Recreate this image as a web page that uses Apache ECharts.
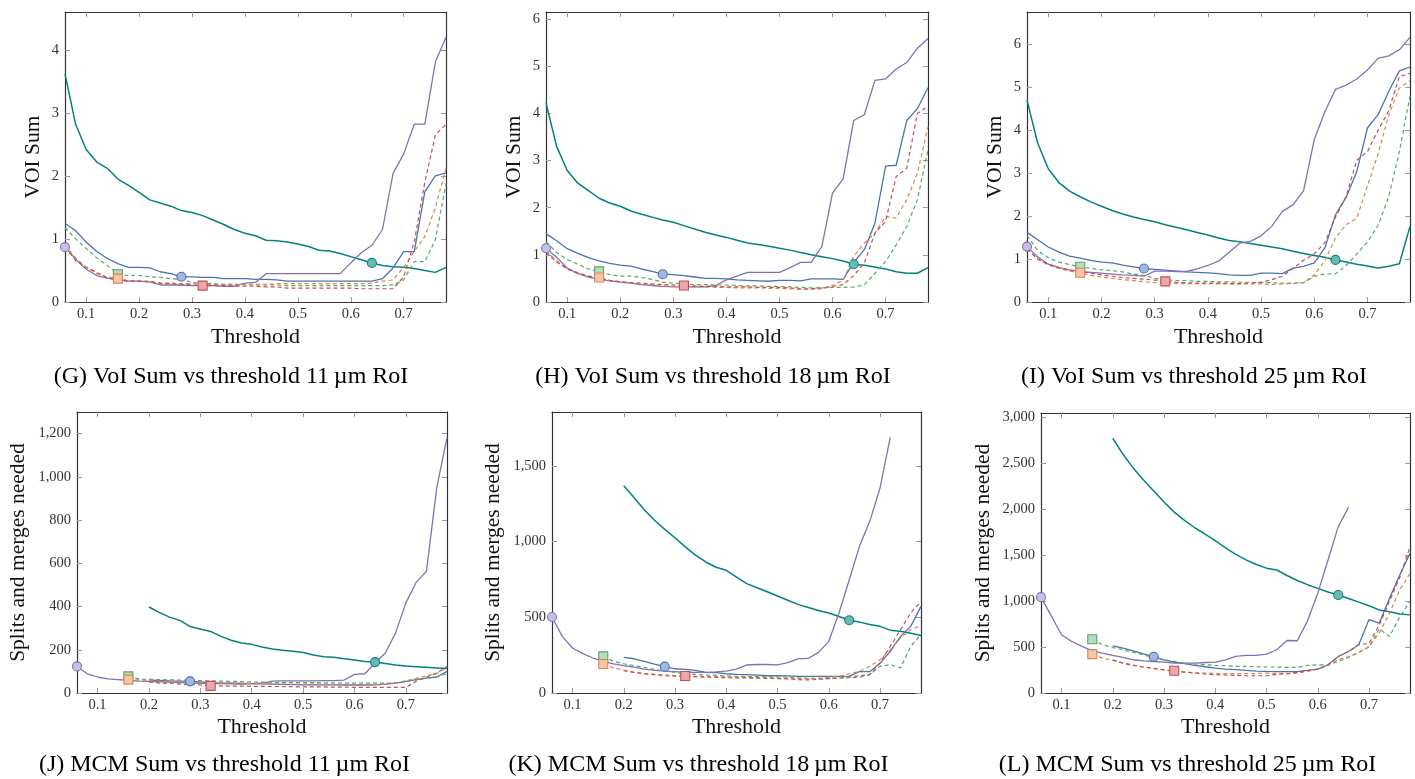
<!DOCTYPE html>
<html><head><meta charset="utf-8">
<script src="https://cdn.jsdelivr.net/npm/echarts@6/dist/echarts.min.js"></script>
<style>html,body{margin:0;padding:0;background:#fff}#c{width:1415px;height:779px}</style>
</head><body><div id="c"></div>
<script>
const N = null;
const THRESHOLDS = [0.06,0.08,0.10,0.12,0.14,0.16,0.18,0.20,0.22,0.24,0.26,0.28,0.30,0.32,0.34,0.36,0.38,0.40,0.42,0.44,0.46,0.48,0.50,0.52,0.54,0.56,0.58,0.60,0.62,0.64,0.66,0.68,0.70,0.72,0.74,0.76,0.78];
const X_TICKS = [0.1,0.2,0.3,0.4,0.5,0.6,0.7];
const Y_TICKS_G = [0,1,2,3,4];
const Y_TICKS_H = [0,1,2,3,4,5,6];
const Y_TICKS_I = [0,1,2,3,4,5,6];
const Y_TICKS_J = [0,200,400,600,800,1000,1200];
const Y_TICKS_K = [0,500,1000,1500];
const Y_TICKS_L = [0,500,1000,1500,2000,2500,3000];
// marker thresholds, series order: teal, blue, purple, green, orange, red
const MARK_AT = [0.64,0.28,0.06,0.16,0.16,0.32];
const CAPTIONS = [
  '(G) VoI Sum vs threshold 11\u2009\u00b5m RoI',
  '(H) VoI Sum vs threshold 18\u2009\u00b5m RoI',
  '(I) VoI Sum vs threshold 25\u2009\u00b5m RoI',
  '(J) MCM Sum vs threshold 11\u2009\u00b5m RoI',
  '(K) MCM Sum vs threshold 18\u2009\u00b5m RoI',
  '(L) MCM Sum vs threshold 25\u2009\u00b5m RoI'
];
const Y_NAMES = ['VOI Sum','VOI Sum','VOI Sum','Splits and merges needed','Splits and merges needed','Splits and merges needed'];

// ---- (G) VoI 11 um
const G_TEAL   = [3.62,2.82,2.42,2.22,2.12, 1.95,1.85,1.74,1.62,1.57, 1.52,1.45,1.42,1.37,1.30, 1.23,1.15,1.09,1.05,0.98, 0.97,0.95,0.92,0.88,0.82, 0.81,0.77,0.72,0.67,0.62, 0.58,0.56,0.55,0.53,0.50, 0.47,0.55];
const G_BLUE   = [1.25,1.13,0.95,0.80,0.69, 0.61,0.55,0.55,0.54,0.48, 0.45,0.40,0.40,0.39,0.39, 0.37,0.37,0.37,0.36,0.36, 0.35,0.33,0.33,0.33,0.33, 0.33,0.33,0.33,0.33,0.33, 0.37,0.54,0.80,0.80,1.75, 2.00,2.05];
const G_PURPLE = [0.87,0.68,0.52,0.42,0.38, 0.35,0.33,0.33,0.32,0.27, 0.27,0.27,0.26,0.26,0.26, 0.25,0.25,0.30,0.31,0.45, 0.45,0.45,0.45,0.45,0.45, 0.45,0.45,0.62,0.78,0.90, 1.15,2.04,2.35,2.82,2.82, 3.81,4.20];
const G_GREEN  = [1.18,1.00,0.85,0.70,0.58, 0.44,0.42,0.42,0.40,0.39, 0.37,0.36,0.31,0.29,0.29, 0.28,0.28,0.27,0.27,0.27, 0.27,0.26,0.26,0.26,0.26, 0.26,0.26,0.26,0.26,0.26, 0.26,0.27,0.35,0.64,0.64, 0.99,1.88];
const G_ORANGE = [0.90,0.70,0.55,0.45,0.40, 0.37,0.34,0.33,0.33,0.30, 0.30,0.29,0.29,0.28,0.28, 0.28,0.28,0.28,0.28,0.28, 0.29,0.29,0.29,0.29,0.29, 0.29,0.29,0.29,0.29,0.30, 0.33,0.35,0.55,0.80,1.04, 1.50,2.12];
const G_RED    = [0.87,0.66,0.55,0.47,0.38, 0.35,0.33,0.33,0.32,0.30, 0.29,0.28,0.27,0.26,0.26, 0.26,0.25,0.25,0.25,0.24, 0.24,0.22,0.22,0.22,0.22, 0.22,0.22,0.22,0.21,0.21, 0.21,0.21,0.40,0.95,1.90, 2.65,2.82];
// ---- (H) VoI 18 um
const H_TEAL   = [4.22,3.30,2.79,2.52,2.36, 2.20,2.10,2.03,1.93,1.86, 1.80,1.74,1.69,1.62,1.55, 1.48,1.42,1.37,1.31,1.25, 1.22,1.18,1.14,1.10,1.05, 1.00,0.96,0.92,0.87,0.80, 0.78,0.74,0.70,0.64,0.61, 0.61,0.73];
const H_BLUE   = [1.45,1.30,1.13,1.03,0.94, 0.87,0.82,0.78,0.76,0.70, 0.65,0.59,0.58,0.56,0.53, 0.50,0.50,0.49,0.47,0.46, 0.45,0.44,0.46,0.46,0.45, 0.49,0.49,0.49,0.48,0.84, 1.11,1.67,2.88,2.90,3.85, 4.10,4.55];
const H_PURPLE = [1.14,0.95,0.72,0.60,0.53, 0.48,0.45,0.42,0.40,0.37, 0.35,0.33,0.32,0.32,0.32, 0.32,0.35,0.47,0.55,0.63, 0.63,0.63,0.63,0.73,0.84, 0.84,1.18,2.31,2.61,3.85, 3.97,4.70,4.73,4.94,5.08, 5.38,5.59];
const H_GREEN  = [1.28,1.05,0.90,0.80,0.70, 0.65,0.58,0.55,0.55,0.52, 0.48,0.42,0.40,0.38,0.37, 0.37,0.36,0.36,0.35,0.34, 0.34,0.33,0.33,0.32,0.31, 0.30,0.30,0.31,0.31,0.32, 0.36,0.61,0.86,1.21,1.60, 2.17,3.23];
const H_ORANGE = [1.08,0.88,0.70,0.60,0.55, 0.52,0.46,0.43,0.40,0.38, 0.36,0.34,0.33,0.33,0.32, 0.32,0.31,0.31,0.30,0.30, 0.30,0.29,0.29,0.28,0.27, 0.27,0.28,0.35,0.46,0.97, 1.25,1.46,1.81,1.78,2.17, 2.73,3.72];
const H_RED    = [1.05,0.85,0.70,0.62,0.55, 0.50,0.46,0.43,0.41,0.40, 0.38,0.37,0.36,0.35,0.34, 0.33,0.33,0.32,0.32,0.32, 0.31,0.31,0.31,0.30,0.28, 0.28,0.30,0.33,0.37,0.56, 0.83,1.46,1.71,2.66,2.84, 4.00,4.15];
// ---- (I) VoI 25 um
const I_TEAL   = [4.70,3.70,3.10,2.78,2.58, 2.45,2.33,2.23,2.13,2.05, 1.98,1.92,1.87,1.80,1.74, 1.68,1.62,1.56,1.49,1.43, 1.40,1.36,1.32,1.28,1.24, 1.18,1.13,1.08,1.04,0.98, 0.93,0.88,0.84,0.79,0.83, 0.89,1.76];
const I_BLUE   = [1.62,1.45,1.28,1.16,1.07, 1.02,0.97,0.93,0.91,0.86, 0.82,0.78,0.76,0.74,0.72, 0.70,0.69,0.68,0.66,0.63, 0.62,0.62,0.67,0.67,0.66, 0.79,0.83,0.91,1.26,2.03, 2.44,3.04,4.05,4.36,4.90, 5.38,5.47];
const I_PURPLE = [1.29,1.05,0.88,0.80,0.75, 0.71,0.69,0.67,0.65,0.63, 0.62,0.60,0.72,0.72,0.71, 0.71,0.77,0.85,0.95,1.16, 1.37,1.41,1.54,1.76,2.11, 2.26,2.59,3.78,4.43,4.95, 5.05,5.19,5.40,5.67,5.73, 5.87,6.16];
const I_GREEN  = [1.55,1.20,1.03,0.93,0.87, 0.82,0.78,0.75,0.73,0.70, 0.65,0.62,0.55,0.52,0.50, 0.50,0.48,0.48,0.47,0.47, 0.46,0.46,0.45,0.45,0.44, 0.44,0.45,0.60,0.65,0.66, 0.85,1.12,1.40,1.78,2.45, 3.50,4.80];
const I_ORANGE = [1.23,1.00,0.86,0.78,0.72, 0.68,0.62,0.58,0.55,0.52, 0.50,0.47,0.45,0.44,0.43, 0.43,0.43,0.43,0.42,0.42, 0.42,0.42,0.42,0.41,0.42, 0.43,0.45,0.63,0.96,1.49, 1.80,1.95,2.70,3.45,4.35, 4.98,5.15];
const I_RED    = [1.23,1.00,0.88,0.80,0.74, 0.71,0.67,0.63,0.60,0.57, 0.55,0.53,0.51,0.48,0.46, 0.45,0.44,0.44,0.44,0.43, 0.43,0.44,0.46,0.52,0.60, 0.78,0.97,1.12,1.38,1.98, 2.46,3.30,3.50,4.00,4.45, 5.25,5.32];
// ---- (J) MCM 11 um
const J_TEAL   = [N,N,N,N,N, N,N,398,373,351, 336,308,296,285,262, 244,231,225,213,204, 198,193,187,176,168, 165,159,153,146,143, 136,129,125,122,119, 116,113];
const J_BLUE   = [N,N,N,N,N, N,N,60,58,56, 55,54,51,48,46, 45,44,43,42,41, 40,39,38,38,38, 38,37,37,37,38, 41,46,54,62,69, 74,100];
const J_PURPLE = [123,89,74,65,62, 59,55,54,52,50, 48,46,45,44,43, 42,41,43,45,55, 56,56,56,56,57, 57,60,86,89,139, 185,278,417,512,563, 949,1181];
const J_GREEN  = [N,N,N,N,N, 77,65,63,62,61, 60,59,57,56,55, 54,53,51,50,50, 49,49,48,48,47, 47,46,46,46,46, 46,48,52,62,69, 74,89];
const J_ORANGE = [N,N,N,N,N, 62,61,57,55,53, 52,51,49,48,47, 46,45,43,43,42, 42,41,41,41,41, 40,40,40,40,40, 41,46,57,68,80, 89,118];
const J_RED    = [N,N,N,N,N, N,N,51,46,44, 41,39,37,33,33, 32,32,31,31,30, 30,29,28,28,28, 27,27,26,26,26, 26,26,26,54,74, 92,123];
// ---- (K) MCM 18 um
const K_TEAL   = [N,N,N,N,N, N,N,1368,1290,1210, 1140,1080,1025,965,910, 865,830,810,765,722, 695,668,640,612,585, 565,545,528,505,480, 468,452,440,415,408, 395,380];
const K_BLUE   = [N,N,N,N,N, N,N,235,226,209, 191,174,160,156,150, 136,134,127,123,121, 118,114,114,113,110, 110,110,110,110,112, 141,141,196,275,374, 440,572];
const K_PURPLE = [502,374,297,260,231, 209,193,180,171,158, 150,145,141,136,136, 136,140,145,158,185, 188,188,186,200,225, 228,268,341,528,748, 968,1133,1352,1687,N, N,N];
const K_GREEN  = [N,N,N,N,N, 242,209,193,180,169, 156,147,136,127,123, 119,117,112,110,109, 108,107,106,104,100, 97,96,96,99,101, 104,121,176,187,165, 308,385];
const K_ORANGE = [N,N,N,N,N, 191,165,152,138,129, 123,119,114,112,110, 108,106,106,104,103, 102,101,99,98,97, 95,95,104,110,127, 143,176,220,286,363, 418,444];
const K_RED    = [N,N,N,N,N, N,N,147,136,127, 121,114,112,112,107, 105,103,101,100,99, 98,97,95,93,88, 86,90,95,98,106, 114,121,198,308,418, 528,605];
// ---- (L) MCM 25 um
const L_TEAL   = [N,N,N,N,N, N,N,2775,2600,2450, 2320,2200,2080,1970,1880, 1800,1730,1660,1580,1510, 1450,1400,1360,1340,1280, 1225,1180,1140,1100,1068, 1030,990,950,905,885, 860,851];
const L_BLUE   = [N,N,N,N,N, N,N,514,489,460, 427,395,362,336,319, 301,286,272,261,254, 246,239,235,232,232, 232,246,261,308,398, 452,525,800,760,1033, 1286,1522];
const L_PURPLE = [1044,840,634,561,507, 460,434,409,387,362, 351,343,336,325,325, 325,332,336,362,398, 409,409,424,471,572, 569,786,1087,1449,1812, 2022,N,N,N,N, N,N];
const L_GREEN  = [N,N,N,N,N, 586,525,496,471,442, 416,387,362,344,325, 315,308,301,297,290, 290,286,283,283,279, 279,301,308,304,344, 387,440,500,700,615, 830,1000];
const L_ORANGE = [N,N,N,N,N, 423,380,355,325,304, 283,264,250,235,228, 221,217,214,210,210, 210,212,217,214,212, 217,235,261,308,362, 398,442,507,652,870, 1123,1304];
const L_RED    = [N,N,N,N,N, N,N,362,325,301, 283,268,254,243,228, 217,207,199,196,192, 188,188,188,203,210, 225,243,261,304,398, 452,525,540,740,1000, 1260,1590];

const SERIF = '"Liberation Serif","DejaVu Serif",serif';
const STYLES = [
  {color:'#00827d', fill:'#6bb8b4', type:'solid', sym:'circle', width:1.5},
  {color:'#4c72b0', fill:'#a3b8de', type:'solid', sym:'circle', width:1.3},
  {color:'#8172b3', fill:'#c8c0e4', type:'solid', sym:'circle', width:1.3},
  {color:'#55a868', fill:'#b5ddbb', type:[4,3], sym:'rect', width:1.2},
  {color:'#dd8452', fill:'#f5c6a8', type:[4,3], sym:'rect', width:1.2},
  {color:'#c44e52', fill:'#e8a9ab', type:[4,3], sym:'rect', width:1.2}
];
const PANELS = [
  {grid:{left:65,top:12,width:381,height:290}, ymax:4.6, yticks:Y_TICKS_G, yGap:21, xGap:24, cap:[231,377], data:[G_TEAL,G_BLUE,G_PURPLE,G_GREEN,G_ORANGE,G_RED]},
  {grid:{left:546,top:12,width:382,height:290}, ymax:6.15, yticks:Y_TICKS_H, yGap:21, xGap:24, cap:[713,377], data:[H_TEAL,H_BLUE,H_PURPLE,H_GREEN,H_ORANGE,H_RED]},
  {grid:{left:1027,top:12,width:383,height:290}, ymax:6.75, yticks:Y_TICKS_I, yGap:21, xGap:24, cap:[1194,377], data:[I_TEAL,I_BLUE,I_PURPLE,I_GREEN,I_ORANGE,I_RED]},
  {grid:{left:77,top:412,width:370,height:281}, ymax:1300, yticks:Y_TICKS_J, yGap:48, xGap:23, cap:[224.5,765], data:[J_TEAL,J_BLUE,J_PURPLE,J_GREEN,J_ORANGE,J_RED]},
  {grid:{left:552,top:412,width:369,height:281}, ymax:1855, yticks:Y_TICKS_K, yGap:48, xGap:23, cap:[698.5,765], data:[K_TEAL,K_BLUE,K_PURPLE,K_GREEN,K_ORANGE,K_RED]},
  {grid:{left:1041,top:413,width:369,height:280}, ymax:3050, yticks:Y_TICKS_L, yGap:47, xGap:23, cap:[1187.5,765], data:[L_TEAL,L_BLUE,L_PURPLE,L_GREEN,L_ORANGE,L_RED]}
];

const FRAME = {show:true, onZero:false, lineStyle:{color:'#333333', width:1.2}};
const TICK = vals => ({show:true, inside:true, length:5, customValues:vals, lineStyle:{color:'#9a9a9a', width:1}});
const grids = [], xAxes = [], yAxes = [], series = [], graphics = [];
PANELS.forEach((p, i) => {
  grids.push(Object.assign({containLabel:false}, p.grid));
  xAxes.push({type:'value', gridIndex:i, position:'bottom', min:0.06, max:0.78,
    name:'Threshold', nameLocation:'middle', nameGap:p.xGap,
    nameTextStyle:{fontFamily:SERIF, fontSize:22, color:'#111'},
    axisLine:FRAME, axisTick:TICK(X_TICKS), splitLine:{show:false},
    axisLabel:{customValues:X_TICKS, formatter:v => v.toFixed(1), fontFamily:SERIF, fontSize:14.5, color:'#333', margin:5}});
  xAxes.push({type:'value', gridIndex:i, position:'top', min:0.06, max:0.78,
    axisLine:FRAME, axisTick:TICK(X_TICKS), splitLine:{show:false}, axisLabel:{show:false}});
  yAxes.push({type:'value', gridIndex:i, position:'left', min:0, max:p.ymax,
    name:Y_NAMES[i], nameLocation:'middle', nameRotate:90, nameGap:p.yGap,
    nameTextStyle:{fontFamily:SERIF, fontSize:21.5, color:'#111'},
    axisLine:FRAME, axisTick:TICK(p.yticks), splitLine:{show:false},
    axisLabel:{customValues:p.yticks, formatter:v => Math.round(v).toLocaleString('en-US'), fontFamily:SERIF, fontSize:14.5, color:'#333', margin:6}});
  yAxes.push({type:'value', gridIndex:i, position:'right', min:0, max:p.ymax,
    axisLine:FRAME, axisTick:TICK(p.yticks), splitLine:{show:false}, axisLabel:{show:false}});
  p.data.forEach((arr, k) => {
    const s = STYLES[k];
    const pts = [];
    THRESHOLDS.forEach((x, j) => { if (arr[j] !== null) pts.push([x, arr[j]]); });
    series.push({type:'line', xAxisIndex:2*i, yAxisIndex:2*i, data:pts, symbol:'none', showSymbol:false,
      lineStyle:{color:s.color, width:s.width, type:s.type}, silent:true, animation:false, z:2+k});
  });
  p.data.forEach((arr, k) => {
    const s = STYLES[k];
    const mx = MARK_AT[k];
    const my = arr[THRESHOLDS.indexOf(mx)];
    series.push({type:'scatter', xAxisIndex:2*i, yAxisIndex:2*i, data:[[mx, my]], symbol:s.sym, symbolSize:9,
      itemStyle:{color:s.fill, borderColor:s.color, borderWidth:1.1, opacity:1}, silent:true, animation:false, z:10, clip:false});
  });
  graphics.push({type:'text', x:p.cap[0], y:p.cap[1],
    style:{text:CAPTIONS[i], font:'24px ' + SERIF, fill:'#000', align:'center', verticalAlign:'middle', textAlign:'center', textVerticalAlign:'middle'}});
});

const chart = echarts.init(document.getElementById('c'), null, {renderer:'canvas'});
chart.setOption({backgroundColor:'#fff', animation:false, grid:grids, xAxis:xAxes, yAxis:yAxes, series:series, graphic:graphics});
</script></body></html>
